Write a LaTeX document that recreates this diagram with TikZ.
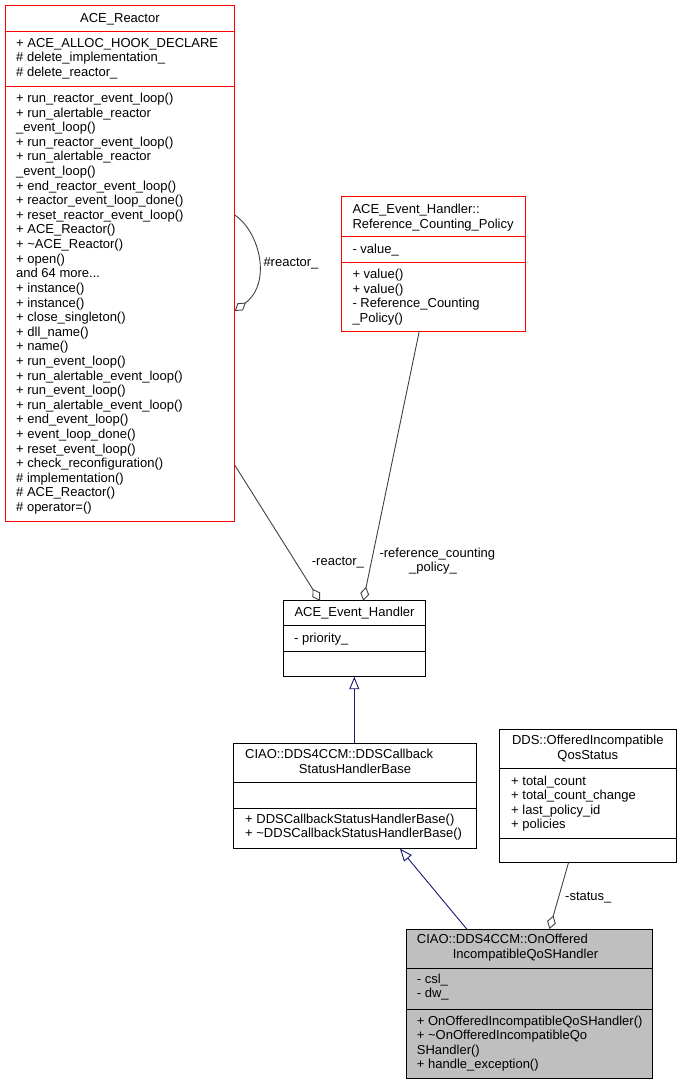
\documentclass[tikz,border=0pt]{standalone}
\usepackage{fontspec}
\setmainfont{Liberation Sans}
\usetikzlibrary{arrows.meta}
\definecolor{edgegrey}{HTML}{404040}
\definecolor{inhblue}{HTML}{191970}
\definecolor{boxred}{HTML}{FF0000}
\definecolor{boxgrey}{HTML}{BFBFBF}
\newcommand\mythreedots{...}
\begin{document}
\begin{tikzpicture}[x=1bp,y=-1bp,
  every node/.style={font=\fontsize{13bp}{14.6bp}\selectfont},
  umlbox/.style={draw, line width=1bp, inner sep=0pt, outer sep=0pt, anchor=north west, fill=white},
  txt/.style={anchor=base west, inner sep=0pt},
  ttl/.style={anchor=base, inner sep=0pt},
  sepline/.style={line width=1bp},
  agg/.style={draw=edgegrey, line width=0.9bp, -{Diamond[open,length=14bp,width=9bp]}},
  inh/.style={draw=inhblue, line width=0.9bp, -{Triangle[open,length=12.5bp,width=10bp]}}]
\useasboundingbox (0,0) rectangle (681,1085);

% ---------- ACE_Reactor ----------
\node[umlbox, draw=boxred, minimum width=229.7bp, minimum height=516bp] (reactor) at (5,5.7) {};
\draw[sepline, boxred] (reactor.west |- 0,31.3) -- (reactor.east |- 0,31.3);
\draw[sepline, boxred] (reactor.west |- 0,86) -- (reactor.east |- 0,86);
\node[ttl] (reactorT) at (119.9,22) {ACE\_Reactor};
\foreach \t [count=\i from 0] in {+ ACE\_ALLOC\_HOOK\_DECLARE, \# delete\_implementation\_, \# delete\_reactor\_}
  \node[txt, name=ra\i] at ({16},{47+14.6*\i}) {\t};
\foreach \t [count=\i from 0] in {
  + run\_reactor\_event\_loop(), + run\_alertable\_reactor, \_event\_loop(),
  + run\_reactor\_event\_loop(), + run\_alertable\_reactor, \_event\_loop(),
  + end\_reactor\_event\_loop(), + reactor\_event\_loop\_done(), + reset\_reactor\_event\_loop(),
  + ACE\_Reactor(), + \textasciitilde ACE\_Reactor(), + open(), and 64 more\mythreedots,
  + instance(), + instance(), + close\_singleton(), + dll\_name(), + name(),
  + run\_event\_loop(), + run\_alertable\_event\_loop(), + run\_event\_loop(),
  + run\_alertable\_event\_loop(), + end\_event\_loop(), + event\_loop\_done(),
  + reset\_event\_loop(), + check\_reconfiguration(), \# implementation(),
  \# ACE\_Reactor(), \# operator=()}
  \node[txt, name=rm\i] at ({16},{102.5+14.61*\i}) {\t};

% ---------- Reference_Counting_Policy ----------
\node[umlbox, draw=boxred, minimum width=184.3bp, minimum height=134.3bp] (rcp) at (341,196.7) {};
\draw[sepline, boxred] (rcp.west |- 0,236.7) -- (rcp.east |- 0,236.7);
\draw[sepline, boxred] (rcp.west |- 0,262) -- (rcp.east |- 0,262);
\node[txt] (rcpT1) at (352.3,213.5) {ACE\_Event\_Handler::};
\node[txt] (rcpT2) at (352.3,228.1) {Reference\_Counting\_Policy};
\node[txt] (rcpA) at (352.3,253.3) {- value\_};
\foreach \t [count=\i from 0] in {+ value(), + value(), - Reference\_Counting, \_Policy()}
  \node[txt, name=rcpm\i] at ({352.3},{278.7+14.6*\i}) {\t};

% ---------- ACE_Event_Handler ----------
\node[umlbox, minimum width=142.4bp, minimum height=76bp] (evh) at (283.3,600.7) {};
\draw[sepline] (evh.west |- 0,625.7) -- (evh.east |- 0,625.7);
\draw[sepline] (evh.west |- 0,651) -- (evh.east |- 0,651);
\node[ttl] (evhT) at (354.5,616.7) {ACE\_Event\_Handler};
\node[txt] (evhA) at (294,642.7) {- priority\_};

% ---------- DDSCallbackStatusHandlerBase ----------
\node[umlbox, minimum width=242.7bp, minimum height=105.4bp] (ddscb) at (233.3,743.3) {};
\draw[sepline] (ddscb.west |- 0,782.7) -- (ddscb.east |- 0,782.7);
\draw[sepline] (ddscb.west |- 0,808.7) -- (ddscb.east |- 0,808.7);
\node[txt] (ddscbT1) at (245,758.3) {CIAO::DDS4CCM::DDSCallback};
\node[ttl] (ddscbT2) at (355,773) {StatusHandlerBase};
\node[txt] (ddscbM1) at (245,823.3) {+ DDSCallbackStatusHandlerBase()};
\node[txt] (ddscbM2) at (245,837.9) {+ \textasciitilde DDSCallbackStatusHandlerBase()};

% ---------- OfferedIncompatibleQosStatus ----------
\node[umlbox, minimum width=176.7bp, minimum height=133.7bp] (qos) at (499.3,729) {};
\draw[sepline] (qos.west |- 0,768.3) -- (qos.east |- 0,768.3);
\draw[sepline] (qos.west |- 0,838.3) -- (qos.east |- 0,838.3);
\node[ttl] (qosT1) at (587.8,744.5) {DDS::OfferedIncompatible};
\node[ttl] (qosT2) at (587.8,759) {QosStatus};
\foreach \t [count=\i from 0] in {+ total\_count, + total\_count\_change, + last\_policy\_id, + policies}
  \node[txt, name=qosa\i] at ({511},{785+14.6*\i}) {\t};

% ---------- OnOfferedIncompatibleQoSHandler ----------
\node[umlbox, fill=boxgrey, minimum width=246.7bp, minimum height=149.3bp] (handler) at (406,929) {};
\draw[sepline] (handler.west |- 0,968.3) -- (handler.east |- 0,968.3);
\draw[sepline] (handler.west |- 0,1009.3) -- (handler.east |- 0,1009.3);
\node[txt] (handlerT1) at (416.7,943.3) {CIAO::DDS4CCM::OnOffered};
\node[ttl] (handlerT2) at (525.5,958) {IncompatibleQoSHandler};
\node[txt] (handlerA1) at (416.7,983.3) {- csl\_};
\node[txt] (handlerA2) at (416.7,997.9) {- dw\_};
\foreach \t [count=\i from 0] in {+ OnOfferedIncompatibleQoSHandler(), + \textasciitilde OnOfferedIncompatibleQo, SHandler(), + handle\_exception()}
  \node[txt, name=handlerm\i] at ({416.7},{1025+14.6*\i}) {\t};

% ---------- connectors ----------
\draw[agg] (reactor.east |- 0,215) .. controls (260,232) and (272,283) .. (reactor.east |- 0,311);
\node[txt] (lblSelf) at (263.3,266.7) {\#reactor\_};

\draw[agg] (reactor.east |- 0,465) -- (evh.north -| 320,0);
\node[txt] (lblReactor) at (311.7,565) {-reactor\_};

\draw[agg] (rcp.south -| 419.3,0) -- (evh.north -| 363.3,0);
\node[txt] (lblRcp1) at (379.3,557.3) {-reference\_counting};
\node[txt] (lblRcp2) at (409,571.7) {\_policy\_};

\draw[inh] (ddscb.north -| 354.3,0) -- (evh.south -| 354.3,0);
\draw[inh] (handler.north -| 466.7,0) -- (ddscb.south -| 400,0);

\draw[agg] (qos.south -| 568.5,0) -- (handler.north -| 549.5,0);
\node[txt] (lblStatus) at (565,900) {-status\_};
\end{tikzpicture}
\end{document}
